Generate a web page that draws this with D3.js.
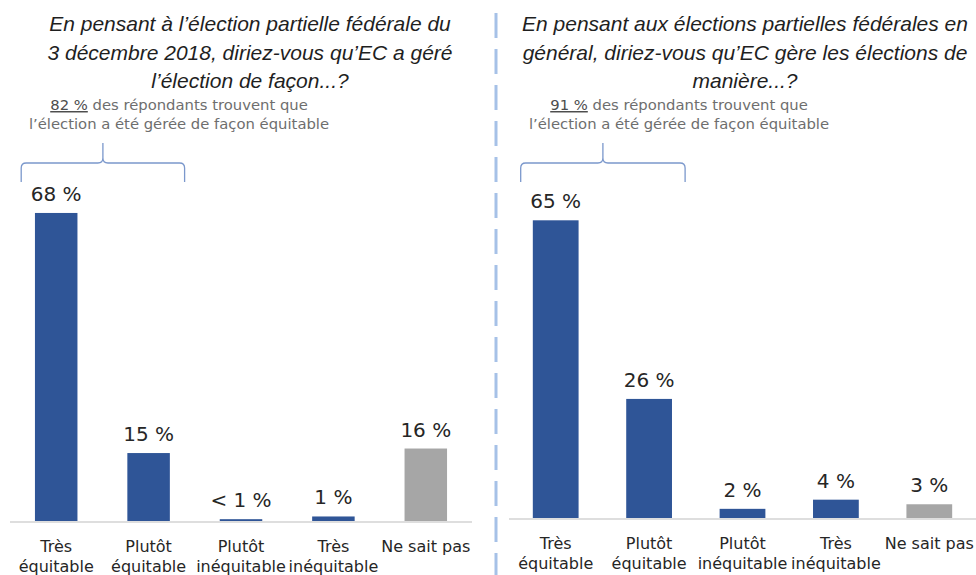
<!DOCTYPE html>
<html>
<head>
<meta charset="utf-8">
<script src="https://cdn.jsdelivr.net/npm/d3@7"></script>
<style>
  body { margin: 0; background: #fff; }
  svg { display: block; }
</style>
</head>
<body>
<div id="chart-container"></div>
<script>
// categories shared by both panels ("\n" = line break)
var categories = ["Très\néquitable", "Plutôt\néquitable", "Plutôt\ninéquitable", "Très\ninéquitable", "Ne sait pas"];

var leftValues = [68, 15, 0.4, 1, 16];
var leftLabels = ["68 %", "15 %", "< 1 %", "1 %", "16 %"];
var leftTitle = ["En pensant à l’élection partielle fédérale du", "3 décembre 2018, diriez-vous qu’EC a géré", "l’élection de façon...?"];
var leftNote = ["82 %", " des répondants trouvent que", "l’élection a été gérée de façon équitable"];

var rightValues = [65, 26, 2, 4, 3];
var rightLabels = ["65 %", "26 %", "2 %", "4 %", "3 %"];
var rightTitle = ["En pensant aux élections partielles fédérales en", "général, diriez-vous qu’EC gère les élections de", "manière...?"];
var rightNote = ["91 %", " des répondants trouvent que", "l’élection a été gérée de façon équitable"];

var W = 976, H = 575;
var svg = d3.select("#chart-container").append("svg").attr("width", W).attr("height", H);

var blue = "#2f5597", grey = "#a6a6a6";

// divider
svg.append("line")
  .attr("x1", 496).attr("x2", 496).attr("y1", 13).attr("y2", H)
  .attr("stroke", "#a6c1e7").attr("stroke-width", 3)
  .attr("stroke-dasharray", "25 11");

var panels = [
  {values: leftValues, labels: leftLabels, title: leftTitle, note: leftNote,
   x0: 10, x1: 472, base: 521, pct: 4.53, pad: 0.54, cx: 250, noteX: 179},
  {values: rightValues, labels: rightLabels, title: rightTitle, note: rightNote,
   x0: 509, x1: 976, base: 518, pct: 4.58, pad: 0.51, cx: 745, noteX: 679}
];

panels.forEach(function(p) {
  var g = svg.append("g");

  var x = d3.scaleBand().domain(categories).range([p.x0, p.x1])
    .paddingInner(p.pad).paddingOuter(p.pad / 2);
  var y = d3.scaleLinear().domain([0, 100]).range([p.base, p.base - p.pct * 100]);

  // title
  var t = g.append("text")
    .attr("text-anchor", "middle")
    .style("font-family", "'Liberation Sans', Arial, sans-serif")
    .style("font-style", "italic")
    .style("font-size", "21px")
    .attr("fill", "#1f1f1f");
  p.title.forEach(function(line, i) {
    t.append("tspan").attr("x", p.cx).attr("y", 31 + i * 28.5).text(line);
  });

  // note
  var n = g.append("text")
    .attr("text-anchor", "middle")
    .style("font-family", "'DejaVu Sans', sans-serif")
    .style("font-size", "14.8px")
    .attr("fill", "#6e6e6e");
  var l1 = n.append("tspan").attr("x", p.noteX).attr("y", 110);
  l1.append("tspan").text(p.note[0]).attr("fill", "#4d4d4d").style("text-decoration", "underline");
  l1.append("tspan").text(p.note[1]);
  n.append("tspan").attr("x", p.noteX).attr("y", 129).text(p.note[2]);

  // brace over the first two categories
  var bx0 = x(categories[0]) + x.bandwidth() / 2 - 35;
  var bx1 = x(categories[1]) + x.bandwidth() / 2 + 36;
  var bm = (bx0 + bx1) / 2;
  var by = 163, r = 5;
  var brace = d3.path();
  brace.moveTo(bx0, 182);
  brace.lineTo(bx0, by + r);
  brace.quadraticCurveTo(bx0, by, bx0 + r, by);
  brace.lineTo(bm - r, by);
  brace.quadraticCurveTo(bm, by, bm, by - r);
  brace.lineTo(bm, 143);
  brace.moveTo(bm, by - r);
  brace.quadraticCurveTo(bm, by, bm + r, by);
  brace.lineTo(bx1 - r, by);
  brace.quadraticCurveTo(bx1, by, bx1, by + r);
  brace.lineTo(bx1, 182);
  g.append("path").attr("d", brace.toString())
    .attr("fill", "none").attr("stroke", "#7b98cc").attr("stroke-width", 1.3);

  // baseline
  g.append("line")
    .attr("x1", p.x0).attr("x2", p.x1).attr("y1", p.base + 1).attr("y2", p.base + 1)
    .attr("stroke", "#dedede").attr("stroke-width", 2);

  // bars
  g.selectAll("rect.bar").data(p.values).enter().append("rect")
    .attr("class", "bar")
    .attr("x", function(d, i) { return x(categories[i]); })
    .attr("width", x.bandwidth())
    .attr("y", function(d) { return y(d); })
    .attr("height", function(d) { return y(0) - y(d); })
    .attr("fill", function(d, i) { return i == 4 ? grey : blue; });

  // value labels
  g.selectAll("text.val").data(p.values).enter().append("text")
    .attr("class", "val")
    .attr("x", function(d, i) { return x(categories[i]) + x.bandwidth() / 2; })
    .attr("y", function(d) { return y(d) - 12; })
    .attr("text-anchor", "middle")
    .style("font-family", "'DejaVu Sans', sans-serif")
    .style("font-size", "20px")
    .attr("fill", "#262626")
    .text(function(d, i) { return p.labels[i]; });

  // category labels
  categories.forEach(function(c) {
    var ct = g.append("text")
      .attr("text-anchor", "middle")
      .style("font-family", "'DejaVu Sans', sans-serif")
      .style("font-size", "16px")
      .attr("fill", "#262626");
    c.split("\n").forEach(function(line, i) {
      ct.append("tspan").attr("x", x(c) + x.bandwidth() / 2).attr("y", p.base + 31 + i * 19.5).text(line);
    });
  });
});
</script>
</body>
</html>
